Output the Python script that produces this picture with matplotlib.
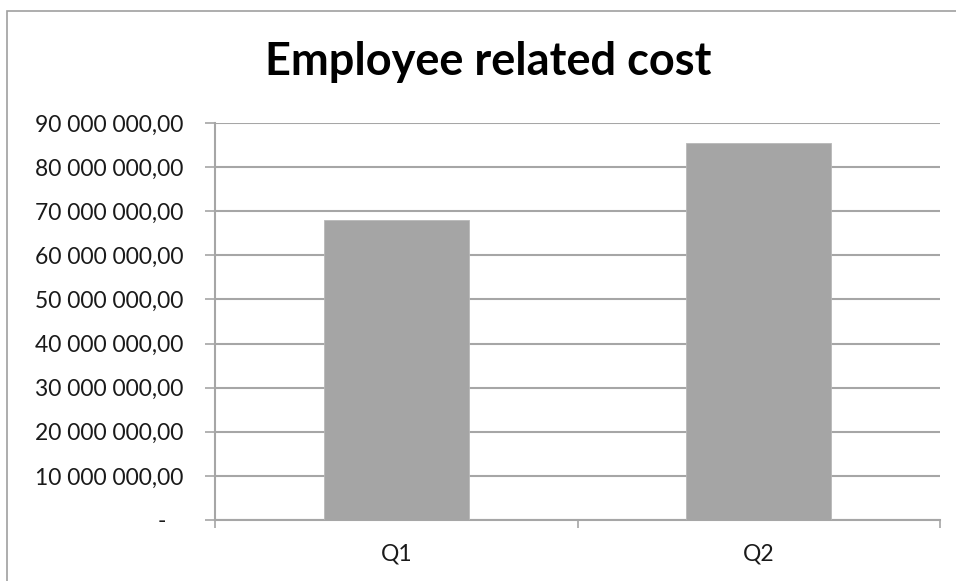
import matplotlib
matplotlib.use("Agg")
import matplotlib.pyplot as plt
from matplotlib.patches import Rectangle
from matplotlib.ticker import FuncFormatter, FixedLocator

categories = ["Q1", "Q2"]
costs = [68_000_000, 85_400_000]
y_ticks = [0, 10_000_000, 20_000_000, 30_000_000, 40_000_000,
           50_000_000, 60_000_000, 70_000_000, 80_000_000, 90_000_000]
title = "Employee related cost"

plt.rcParams["font.family"] = ["Lato", "DejaVu Sans"]

grid_col = "#a6a6a6"
bar_col = "#a5a5a5"
text_col = "#1a1a1a"

fig = plt.figure(figsize=(9.56, 5.81), dpi=100)
fig.patch.set_facecolor("white")

# chart area outline
fig.add_artist(Rectangle((7 / 956, -0.2), 2.0, 1.2 - 11 / 581,
                         transform=fig.transFigure, fill=False,
                         edgecolor="#a0a0a0", linewidth=1.2))

ax = fig.add_axes([215 / 956, 1 - 520 / 581, (940 - 215) / 956, (520 - 123) / 581])

x = list(range(len(categories)))
ax.bar(x, costs, width=0.4, color=bar_col, edgecolor="#b8b8b8",
       linewidth=0.6, zorder=3)

ax.set_xlim(-0.5, len(categories) - 0.5)
ax.set_ylim(0, 90_000_000)


def fmt(v, _):
    if abs(v) < 1:
        return "-   "
    s = f"{v:,.2f}"
    return s.replace(",", " ").replace(".", ",")


ax.yaxis.set_major_locator(FixedLocator(y_ticks))
ax.yaxis.set_major_formatter(FuncFormatter(fmt))
ax.grid(axis="y", color=grid_col, linewidth=1.5, zorder=0)

ax.xaxis.set_major_locator(FixedLocator([i - 0.5 for i in range(len(categories) + 1)]))
ax.xaxis.set_major_formatter(FuncFormatter(lambda v, _: ""))
ax.xaxis.set_minor_locator(FixedLocator(x))
ax.set_xticklabels(categories, minor=True)

ax.tick_params(axis="y", which="major", direction="out", length=7.5, width=1.2,
               color=grid_col, labelsize=16.5, labelcolor=text_col, pad=15)
ax.tick_params(axis="x", which="major", direction="out", length=6, width=1.2,
               color=grid_col)
ax.tick_params(axis="x", which="minor", length=0, labelsize=16.5,
               labelcolor=text_col, pad=17)

for side in ("top", "right"):
    ax.spines[side].set_visible(False)
for side in ("left", "bottom"):
    ax.spines[side].set_color(grid_col)
    ax.spines[side].set_linewidth(1.5)

fig.text(488 / 956, 1 - 62 / 581, title, ha="center", va="center",
         fontsize=32.5, fontweight="bold", color="black")

fig.savefig("out.png", dpi=100, facecolor="white")
